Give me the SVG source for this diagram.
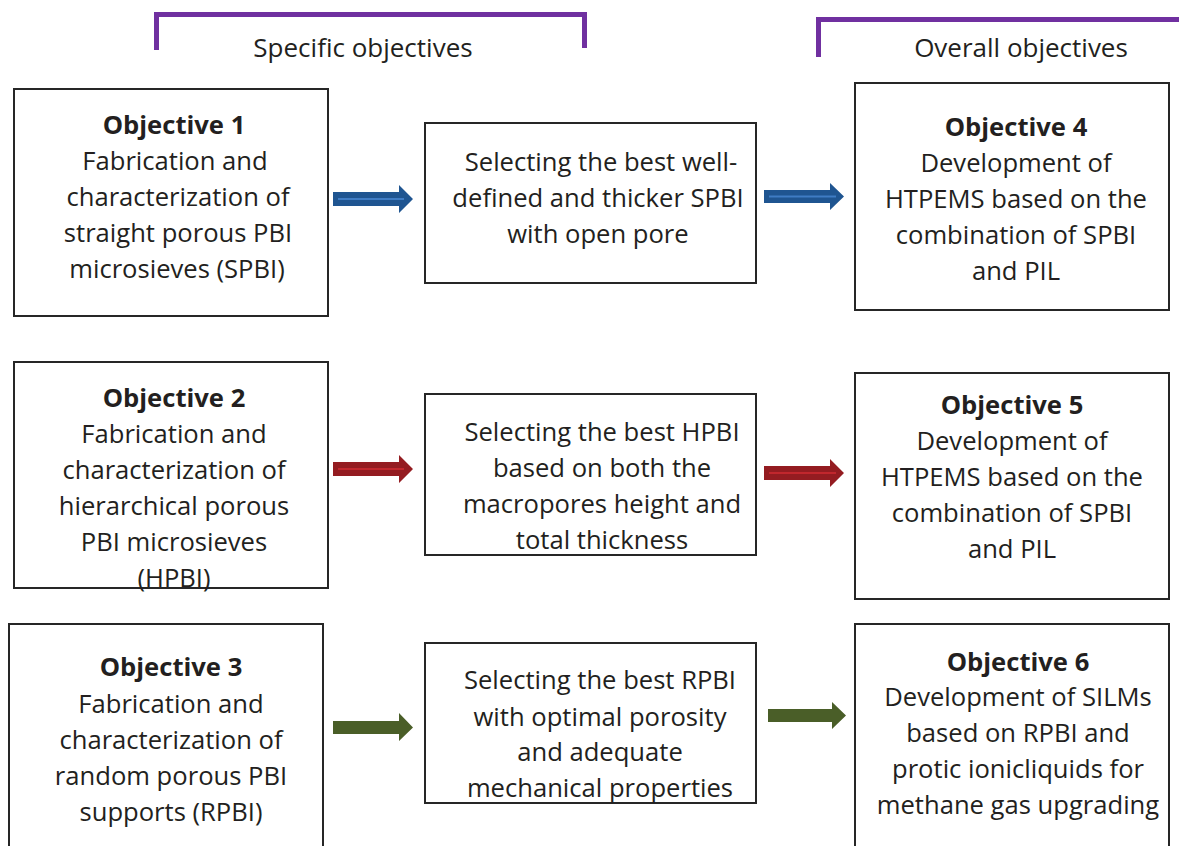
<svg xmlns="http://www.w3.org/2000/svg" width="1179" height="846" viewBox="0 0 1179 846">
<style>
.box{fill:#fff;stroke:#262626;stroke-width:2}
.t{font-family:"Open Sans","Liberation Sans",sans-serif;font-size:25.6px;fill:#231f20;text-anchor:middle}
.b{font-weight:bold}
.h{font-family:"Open Sans","Liberation Sans",sans-serif;font-size:26px;fill:#231f20;text-anchor:middle}
.br{fill:none;stroke:#7030a0;stroke-width:5}
.blue{fill:#1f5591}.blueL{stroke:#3f7cc4;stroke-width:2}
.red{fill:#941c21}.redL{stroke:#c1272d;stroke-width:2}
.green{fill:#4a5e28}
</style>
<rect width="1179" height="846" fill="#fff"/>
<g id="brackets">
<path class="br" d="M156.5,50 V14.5 H584.5 V48"/>
<path class="br" d="M818.5,57 V19.5 H1179"/>
<text class="h" x="363" y="57">Specific objectives</text>
<text class="h" x="1021" y="57">Overall objectives</text>
</g>
<g id="obj1">
<rect class="box" x="14" y="89" width="314" height="227"/>
<text class="t"><tspan class="b" x="174" y="134">Objective 1</tspan><tspan x="175" y="170">Fabrication and</tspan><tspan x="178" y="206">characterization of</tspan><tspan x="178" y="242">straight porous PBI</tspan><tspan x="177" y="278">microsieves (SPBI)</tspan></text>
</g>
<g id="sel1">
<rect class="box" x="425" y="123" width="331" height="160"/>
<text class="t"><tspan x="601" y="171">Selecting the best well-</tspan><tspan x="598" y="207">defined and thicker SPBI</tspan><tspan x="598" y="243">with open pore</tspan></text>
</g>
<g id="obj4">
<rect class="box" x="855" y="83" width="314" height="227"/>
<text class="t"><tspan class="b" x="1016" y="136">Objective 4</tspan><tspan x="1016" y="172">Development of</tspan><tspan x="1016" y="208">HTPEMS based on the</tspan><tspan x="1016" y="244">combination of SPBI</tspan><tspan x="1016" y="280">and PIL</tspan></text>
</g>
<g id="obj2">
<rect class="box" x="14" y="362" width="314" height="226"/>
<text class="t"><tspan class="b" x="174" y="407">Objective 2</tspan><tspan x="174" y="443">Fabrication and</tspan><tspan x="174" y="479">characterization of</tspan><tspan x="174" y="515">hierarchical porous</tspan><tspan x="174" y="551">PBI microsieves</tspan><tspan x="174" y="587">(HPBI)</tspan></text>
</g>
<g id="sel2">
<rect class="box" x="425" y="394" width="331" height="161"/>
<text class="t"><tspan x="602" y="441">Selecting the best HPBI</tspan><tspan x="602" y="477">based on both the</tspan><tspan x="602" y="513">macropores height and</tspan><tspan x="602" y="549">total thickness</tspan></text>
</g>
<g id="obj5">
<rect class="box" x="855" y="373" width="314" height="226"/>
<text class="t"><tspan class="b" x="1012" y="414">Objective 5</tspan><tspan x="1012" y="450">Development of</tspan><tspan x="1012" y="486">HTPEMS based on the</tspan><tspan x="1012" y="522">combination of SPBI</tspan><tspan x="1012" y="558">and PIL</tspan></text>
</g>
<g id="obj3">
<rect class="box" x="9" y="624" width="314" height="240"/>
<text class="t"><tspan class="b" x="171" y="676">Objective 3</tspan><tspan x="171" y="713">Fabrication and</tspan><tspan x="171" y="749">characterization of</tspan><tspan x="171" y="785">random porous PBI</tspan><tspan x="171" y="821">supports (RPBI)</tspan></text>
</g>
<g id="sel3">
<rect class="box" x="425" y="643" width="331" height="160"/>
<text class="t"><tspan x="600" y="689">Selecting the best RPBI</tspan><tspan x="600" y="726">with optimal porosity</tspan><tspan x="600" y="761">and adequate</tspan><tspan x="600" y="797">mechanical properties</tspan></text>
</g>
<g id="obj6">
<rect class="box" x="855" y="624" width="314" height="240"/>
<text class="t"><tspan class="b" x="1018" y="671">Objective 6</tspan><tspan x="1018" y="706">Development of SILMs</tspan><tspan x="1018" y="742">based on RPBI and</tspan><tspan x="1018" y="778">protic ionicliquids for</tspan><tspan x="1018" y="814">methane gas upgrading</tspan></text>
</g>
<g id="connectors">
<polygon class="blue" points="333,192 399,192 399,185 413,199 399,213 399,206 333,206"/>
<line class="blueL" x1="338" y1="199" x2="404" y2="199"/>
<polygon class="blue" points="764,190 830,190 830,183 844,196.5 830,210 830,203 764,203"/>
<line class="blueL" x1="769" y1="196.5" x2="836" y2="196.5"/>
<polygon class="red" points="333,462 399,462 399,455 413,469 399,483 399,476 333,476"/>
<line class="redL" x1="338" y1="469" x2="404" y2="469"/>
<polygon class="red" points="764,466 830,466 830,459 844,473 830,487 830,480 764,480"/>
<line class="redL" x1="769" y1="473" x2="836" y2="473"/>
<polygon class="green" points="333,721 399,721 399,713 413,727.5 399,741 399,734 333,734"/>
<polygon class="green" points="768,709 832,709 832,702 846,715.5 832,729 832,722 768,722"/>
</g>
</svg>
